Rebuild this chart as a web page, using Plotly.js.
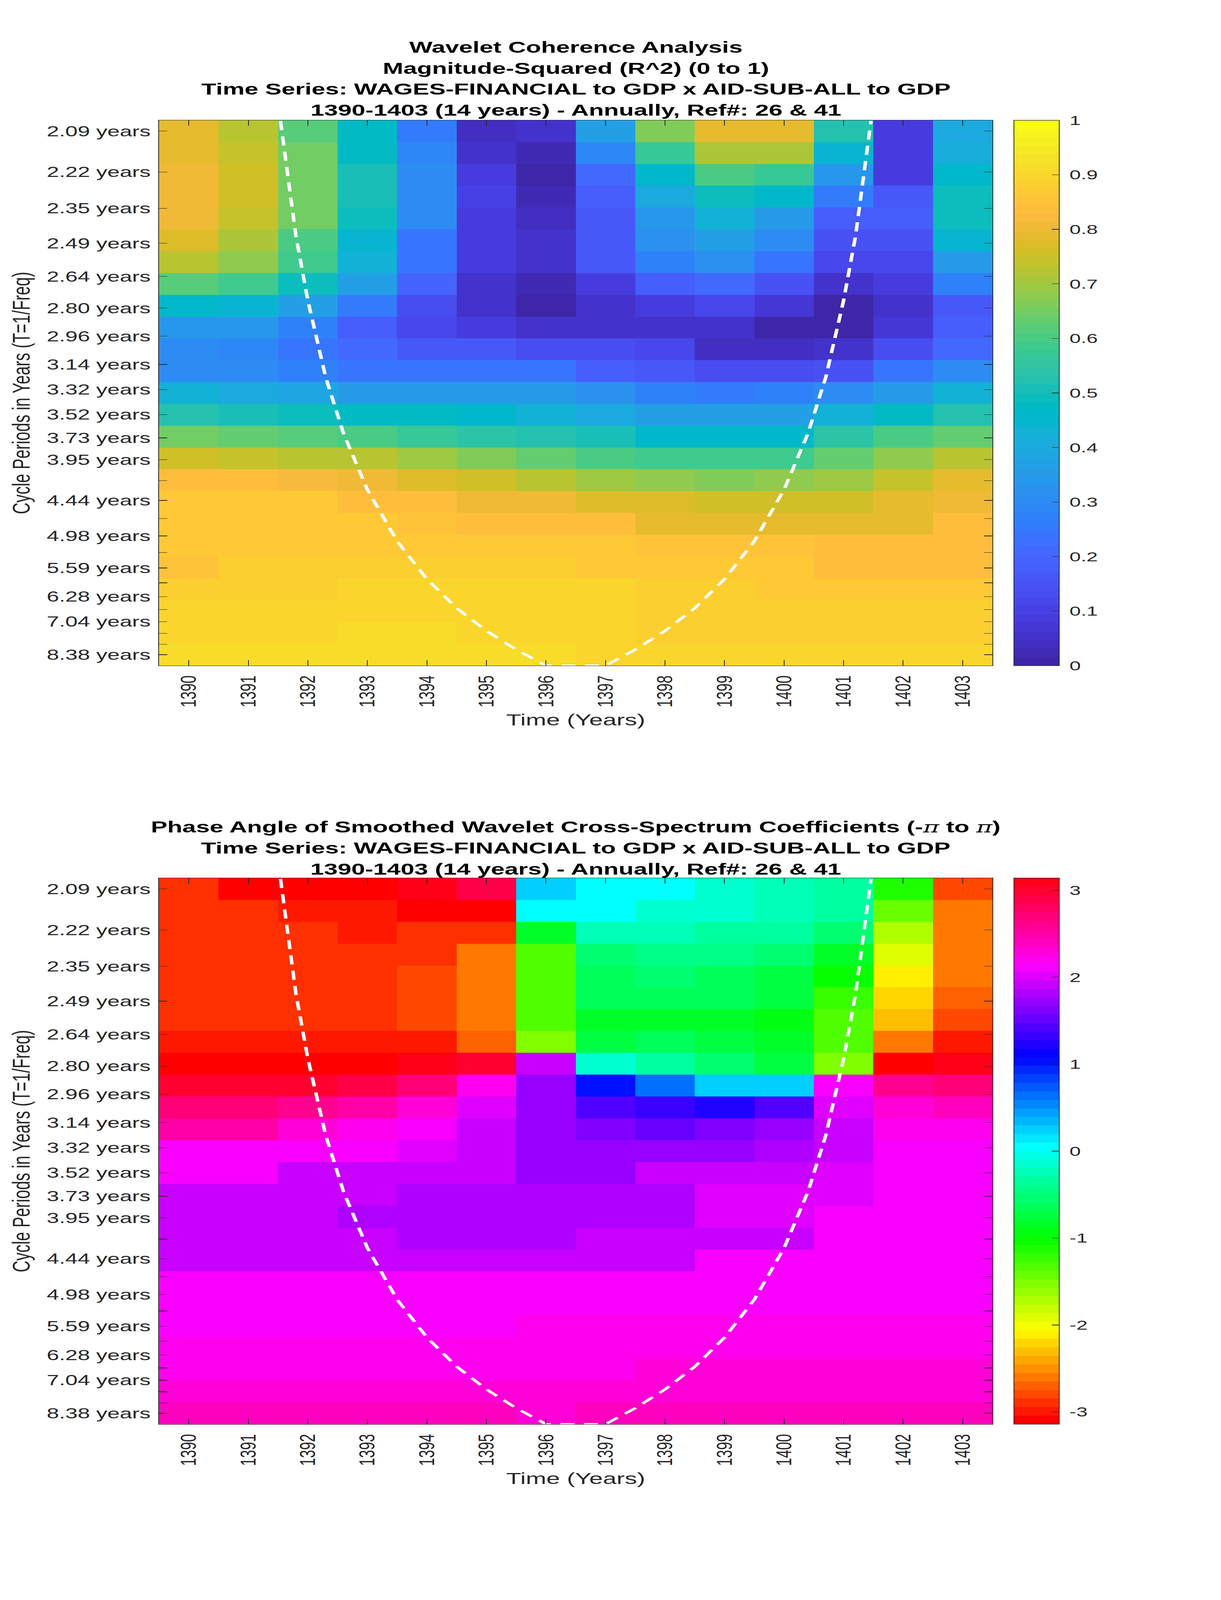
<!DOCTYPE html>
<html>
<head>
<meta charset="utf-8">
<script src="https://cdn.plot.ly/plotly-3.0.1.min.js"></script>
<style>
html,body{margin:0;padding:0;background:#fff;overflow:hidden;}
#frame{position:relative;overflow:hidden;background:#fff;}
#chart{position:absolute;left:0;top:0;width:3125px;height:6252px;transform-origin:0 0;}
</style>
</head>
<body>
<div id="frame"><div id="chart"></div></div>
<script>
// ---------------- data ----------------
const years = [1390,1391,1392,1393,1394,1395,1396,1397,1398,1399,1400,1401,1402,1403];

// wavelet periods (rows, top to bottom) and their tick labels
const periods = [2.09,2.22,2.35,2.49,2.64,2.80,2.96,3.14,3.32,3.52,3.73,3.95,4.19,4.44,4.70,4.98,5.28,5.59,5.93,6.28,6.65,7.04,7.46,7.91,8.38];
const periodLabels = ['2.09 years','2.22 years','2.35 years','2.49 years','2.64 years','2.80 years','2.96 years','3.14 years','3.32 years','3.52 years','3.73 years','3.95 years','','4.44 years','','4.98 years','','5.59 years','','6.28 years','','7.04 years','','','8.38 years'];

// magnitude-squared coherence, one array per period row (top to bottom)
const coherence = [
  [0.789,0.727,0.62,0.47,0.26,0.04,0.055,0.365,0.664,0.789,0.789,0.52,0.086,0.40],
  [0.789,0.742,0.648,0.47,0.29,0.055,0.02,0.29,0.57,0.71,0.71,0.445,0.086,0.41],
  [0.805,0.758,0.648,0.51,0.30,0.086,0.008,0.21,0.46,0.60,0.57,0.335,0.086,0.46],
  [0.805,0.758,0.648,0.51,0.30,0.10,0.02,0.18,0.40,0.49,0.46,0.26,0.16,0.49],
  [0.805,0.742,0.648,0.49,0.30,0.09,0.04,0.16,0.335,0.43,0.35,0.18,0.18,0.49],
  [0.773,0.71,0.60,0.445,0.24,0.086,0.05,0.16,0.32,0.365,0.31,0.15,0.15,0.445],
  [0.727,0.68,0.585,0.43,0.24,0.086,0.05,0.16,0.27,0.32,0.24,0.117,0.117,0.35],
  [0.62,0.585,0.49,0.365,0.195,0.055,0.025,0.086,0.18,0.21,0.15,0.055,0.086,0.27],
  [0.46,0.445,0.365,0.26,0.13,0.055,0.015,0.05,0.086,0.117,0.07,0.008,0.055,0.16],
  [0.335,0.335,0.27,0.18,0.117,0.086,0.05,0.05,0.05,0.05,0.008,0.008,0.07,0.18],
  [0.30,0.29,0.24,0.21,0.16,0.16,0.14,0.13,0.117,0.04,0.04,0.05,0.13,0.21],
  [0.31,0.31,0.27,0.24,0.24,0.24,0.24,0.18,0.16,0.13,0.13,0.15,0.24,0.31],
  [0.43,0.40,0.38,0.35,0.35,0.35,0.35,0.32,0.27,0.26,0.27,0.31,0.35,0.43],
  [0.52,0.51,0.49,0.48,0.48,0.46,0.43,0.40,0.365,0.365,0.365,0.43,0.48,0.52],
  [0.648,0.633,0.62,0.60,0.57,0.54,0.52,0.51,0.46,0.46,0.46,0.54,0.60,0.633],
  [0.758,0.742,0.727,0.727,0.695,0.664,0.633,0.60,0.585,0.585,0.585,0.633,0.68,0.727],
  [0.836,0.836,0.82,0.805,0.773,0.758,0.727,0.695,0.68,0.664,0.68,0.695,0.742,0.789],
  [0.86,0.86,0.86,0.83,0.83,0.81,0.81,0.775,0.775,0.75,0.75,0.76,0.79,0.80],
  [0.86,0.86,0.86,0.86,0.85,0.83,0.83,0.83,0.79,0.79,0.79,0.79,0.79,0.83],
  [0.87,0.87,0.87,0.87,0.87,0.87,0.87,0.87,0.85,0.85,0.85,0.83,0.83,0.83],
  [0.85,0.88,0.88,0.88,0.88,0.88,0.88,0.87,0.87,0.87,0.87,0.84,0.84,0.84],
  [0.885,0.885,0.885,0.895,0.895,0.895,0.895,0.895,0.88,0.88,0.87,0.87,0.87,0.87],
  [0.895,0.895,0.895,0.895,0.895,0.895,0.895,0.895,0.885,0.885,0.885,0.885,0.885,0.885],
  [0.895,0.895,0.895,0.91,0.91,0.90,0.90,0.90,0.89,0.89,0.89,0.89,0.89,0.89],
  [0.91,0.91,0.91,0.91,0.91,0.91,0.91,0.895,0.895,0.895,0.895,0.895,0.895,0.895]
];

// phase angle (radians), one array per period row (top to bottom)
const phase = [
  [-2.93,-3.06,-3.12,-3.12,3.10,2.90,0.23,0.02,0.02,-0.10,-0.23,-0.30,-1.16,-2.75],
  [-2.93,-2.93,-3.04,-3.04,-3.13,-3.13,0.00,0.00,-0.10,-0.18,-0.22,-0.39,-1.44,-2.65],
  [-2.93,-2.93,-2.93,-3.04,-2.93,-2.85,-0.82,-0.22,-0.22,-0.30,-0.35,-0.55,-1.70,-2.65],
  [-2.93,-2.93,-2.93,-2.93,-2.93,-2.65,-1.28,-0.52,-0.42,-0.42,-0.57,-0.88,-1.90,-2.65],
  [-2.93,-2.93,-2.93,-2.93,-2.81,-2.56,-1.37,-0.62,-0.52,-0.67,-0.75,-1.05,-2.14,-2.65],
  [-2.93,-2.93,-2.93,-2.93,-2.81,-2.56,-1.28,-0.67,-0.67,-0.67,-0.75,-1.25,-2.23,-2.73],
  [-2.93,-2.93,-2.93,-2.93,-2.81,-2.56,-1.37,-0.88,-0.80,-0.80,-0.93,-1.37,-2.33,-2.81],
  [-3.04,-3.04,-3.04,-3.04,-2.98,-2.73,-1.50,-0.70,-0.67,-0.78,-0.85,-1.37,-2.65,-3.04],
  [-3.13,-3.13,-3.13,-3.13,3.10,3.00,1.87,-0.10,-0.30,-0.55,-0.78,-1.50,-3.13,3.05],
  [2.98,2.98,2.98,2.90,2.73,2.25,1.75,1.05,0.60,0.20,0.20,2.09,2.65,2.70],
  [2.73,2.73,2.65,2.53,2.33,1.98,1.75,1.46,1.33,1.25,1.46,1.98,2.33,2.44],
  [2.48,2.48,2.32,2.24,2.10,1.87,1.745,1.62,1.52,1.62,1.745,1.95,2.16,2.16],
  [2.14,2.14,2.12,2.12,1.97,1.87,1.745,1.745,1.745,1.745,1.77,1.95,2.14,2.14],
  [2.10,2.10,1.94,1.94,1.87,1.87,1.72,1.72,1.87,1.87,1.94,1.98,2.10,2.10],
  [1.90,1.90,1.90,1.90,1.85,1.85,1.85,1.85,1.85,1.97,1.97,1.97,2.10,2.10],
  [1.90,1.90,1.90,1.85,1.85,1.85,1.85,1.85,1.85,1.97,1.97,2.10,2.10,2.10],
  [1.90,1.90,1.90,1.90,1.84,1.84,1.84,1.95,1.95,1.95,1.95,2.10,2.10,2.10],
  [1.95,1.95,1.95,1.95,1.95,1.95,1.95,1.95,1.95,2.10,2.10,2.10,2.10,2.10],
  [2.10,2.10,2.10,2.10,2.10,2.10,2.10,2.10,2.10,2.12,2.12,2.12,2.12,2.12],
  [2.10,2.10,2.10,2.10,2.10,2.10,2.10,2.10,2.14,2.14,2.14,2.14,2.14,2.14],
  [2.10,2.10,2.10,2.10,2.10,2.10,2.17,2.17,2.17,2.17,2.17,2.17,2.17,2.17],
  [2.17,2.17,2.17,2.17,2.17,2.17,2.17,2.17,2.17,2.17,2.22,2.22,2.19,2.19],
  [2.19,2.19,2.19,2.19,2.19,2.19,2.19,2.19,2.26,2.26,2.26,2.26,2.26,2.26],
  [2.26,2.26,2.26,2.26,2.26,2.26,2.26,2.26,2.26,2.26,2.26,2.26,2.26,2.26],
  [2.38,2.38,2.38,2.38,2.38,2.38,2.28,2.38,2.38,2.38,2.38,2.38,2.38,2.38]
];

// cone of influence (time, period in years)
const coiYears   = [1391.54,1391.8,1392.0,1392.3,1392.6,1393.0,1393.5,1394.0,1394.5,1395.0,1395.5,1396.0,1396.5,1397.0,1397.5,1398.0,1398.5,1399.0,1399.5,1400.0,1400.4,1400.7,1401.0,1401.2,1401.46];
const coiPeriods = [2.06,2.46,2.76,3.23,3.69,4.30,5.07,5.84,6.61,7.37,8.14,8.94,8.94,8.94,8.14,7.37,6.61,5.84,5.07,4.30,3.69,3.23,2.76,2.46,2.06];

const coherenceTicks = [0,0.1,0.2,0.3,0.4,0.5,0.6,0.7,0.8,0.9,1];
const phaseTicks = [-3,-2,-1,0,1,2,3];

// ---------------- colormaps ----------------
const parula64 = [
[0.2422,0.1504,0.6603],[0.2504,0.1650,0.7076],[0.2578,0.1818,0.7511],[0.2647,0.1978,0.7952],
[0.2706,0.2147,0.8364],[0.2751,0.2342,0.8710],[0.2783,0.2559,0.8991],[0.2803,0.2782,0.9221],
[0.2813,0.3006,0.9414],[0.2810,0.3228,0.9579],[0.2795,0.3447,0.9717],[0.2760,0.3667,0.9829],
[0.2699,0.3892,0.9906],[0.2602,0.4123,0.9952],[0.2440,0.4358,0.9988],[0.2206,0.4603,0.9973],
[0.1963,0.4847,0.9892],[0.1834,0.5074,0.9798],[0.1786,0.5289,0.9682],[0.1764,0.5499,0.9520],
[0.1687,0.5703,0.9359],[0.1540,0.5902,0.9218],[0.1460,0.6091,0.9079],[0.1380,0.6276,0.8973],
[0.1248,0.6459,0.8883],[0.1113,0.6635,0.8763],[0.0952,0.6798,0.8598],[0.0689,0.6948,0.8394],
[0.0297,0.7082,0.8163],[0.0036,0.7203,0.7917],[0.0067,0.7312,0.7660],[0.0433,0.7411,0.7394],
[0.0964,0.7500,0.7120],[0.1408,0.7584,0.6842],[0.1717,0.7670,0.6554],[0.1938,0.7758,0.6251],
[0.2161,0.7843,0.5923],[0.2470,0.7918,0.5567],[0.2906,0.7973,0.5188],[0.3406,0.8008,0.4789],
[0.3909,0.8029,0.4354],[0.4456,0.8024,0.3909],[0.5044,0.7993,0.3480],[0.5616,0.7942,0.3045],
[0.6174,0.7876,0.2612],[0.6720,0.7793,0.2227],[0.7242,0.7698,0.1910],[0.7738,0.7598,0.1646],
[0.8203,0.7498,0.1535],[0.8634,0.7406,0.1596],[0.9035,0.7330,0.1774],[0.9393,0.7288,0.2100],
[0.9728,0.7298,0.2394],[0.9956,0.7434,0.2371],[0.9970,0.7659,0.2199],[0.9952,0.7893,0.2028],
[0.9892,0.8136,0.1885],[0.9786,0.8386,0.1766],[0.9676,0.8639,0.1643],[0.9610,0.8890,0.1537],
[0.9597,0.9135,0.1423],[0.9628,0.9373,0.1265],[0.9691,0.9606,0.1064],[0.9769,0.9839,0.0805]];

function rgbStr(c){ return 'rgb(' + Math.round(c[0]*255) + ',' + Math.round(c[1]*255) + ',' + Math.round(c[2]*255) + ')'; }
function hsvColor(h){
  const k = h*6, i = Math.floor(k), f = k - i, q = 1 - f;
  switch(i % 6){
    case 0: return [1,f,0];
    case 1: return [q,1,0];
    case 2: return [0,1,f];
    case 3: return [0,q,1];
    case 4: return [f,0,1];
    default: return [1,0,q];
  }
}
function discreteScale(cols){
  const n = cols.length, out = [];
  for(let i=0;i<n;i++){ out.push([i/n, rgbStr(cols[i])]); out.push([(i+1)/n, rgbStr(cols[i])]); }
  return out;
}
const hsv64 = []; for(let i=0;i<64;i++) hsv64.push(hsvColor(i/64));
const parulaScale = discreteScale(parula64);
const hsvScale = discreteScale(hsv64);

// ---------------- geometry (axis is linear in frequency = 1/period) ----------------
const fTop = 1/periods[0], fBot = 1/periods[periods.length-1];
const nRows = periods.length;
const rowStep = (fTop - fBot)/(nRows-1);
const rowFreq = periods.map((p,i) => fTop - i*rowStep);   // imagesc-style uniform rows
const yRange = [fBot - rowStep/2, fTop + rowStep/2];
const tickFreq = periods.map(p => 1/p);
const coiFreq = coiPeriods.map(p => Math.min(Math.max(1/p, yRange[0]), yRange[1]));

// figure is drawn on a 3125 x 6252 canvas, then fitted to the actual window
const W = 3125, H = 6252;
const VW = Math.min(window.innerWidth || W, W), VH = Math.min(window.innerHeight || H, H);
const frame = document.getElementById('frame');
frame.style.width = VW + 'px'; frame.style.height = VH + 'px';
document.getElementById('chart').style.transform = 'scale(' + (VW/W) + ',' + (VH/H) + ')';

const FONT = 'Liberation Sans, Arial, Helvetica, sans-serif';
const AX = '#262626';
const L = 407, R = W - 2540, T = 470, B = H - 5565;
const plotH = H - T - B;
const topDom = [(plotH - (2601 - 470))/plotH, 1];
const botDom = [0, (5565 - 3431)/plotH];

function xAxis(anchor){
  return {
    anchor: anchor, domain: [0,1], range: [1389.5, 1403.5],
    tickmode: 'array', tickvals: years, ticktext: years.map(String),
    tickangle: -90, ticks: 'inside', ticklen: 21, tickwidth: 2, tickcolor: AX,
    showline: true, linecolor: AX, linewidth: 2, mirror: 'ticks',
    showgrid: false, zeroline: false, ticklabelstandoff: 14,
    tickfont: {family: FONT, size: 56, color: AX},
    title: {text: 'Time (Years)', font: {family: FONT, size: 63, color: AX}, standoff: 28}
  };
}
function yAxis(anchor, dom){
  return {
    anchor: anchor, domain: dom, range: yRange,
    tickmode: 'array', tickvals: tickFreq, ticktext: periodLabels,
    ticks: 'inside', ticklen: 21, tickwidth: 2, tickcolor: AX,
    showline: true, linecolor: AX, linewidth: 2, mirror: 'ticks',
    showgrid: false, zeroline: false, ticklabelstandoff: 8,
    tickfont: {family: FONT, size: 57, color: AX},
    title: {text: 'Cycle Periods in Years (T=1/Freq)', font: {family: FONT, size: 63, color: AX}, standoff: 22}
  };
}
function colorbar(yc, len, tv){
  return {
    x: (2595 - L)/(W - L - R), xanchor: 'left', xpad: 0, ypad: 0,
    y: yc, yanchor: 'middle', len: len, lenmode: 'fraction',
    thickness: 116, thicknessmode: 'pixels',
    outlinewidth: 2, outlinecolor: AX,
    tickmode: 'array', tickvals: tv, ticktext: tv.map(v => '\u00a0' + String(v)),
    ticks: 'inside', ticklen: 20, tickwidth: 2, tickcolor: AX,
    tickfont: {family: FONT, size: 52, color: AX}
  };
}

const topCenter = ((5565 - 470) + (5565 - 2601))/2/plotH;
const botCenter = ((5565 - 3431) + 0)/2/plotH;
const coiLine = {color: '#ffffff', width: 9, dash: '36px,24px'};

const traces = [
  {type: 'heatmap', x: years, y: rowFreq, z: coherence, xaxis: 'x', yaxis: 'y',
   zmin: 0, zmax: 1, colorscale: parulaScale, zsmooth: false,
   colorbar: colorbar(topCenter, (2601-470)/plotH, coherenceTicks)},
  {type: 'scatter', mode: 'lines', x: coiYears, y: coiFreq, xaxis: 'x', yaxis: 'y',
   line: coiLine, hoverinfo: 'skip', showlegend: false},
  {type: 'heatmap', x: years, y: rowFreq, z: phase, xaxis: 'x2', yaxis: 'y2',
   zmin: -Math.PI, zmax: Math.PI, colorscale: hsvScale, zsmooth: false,
   colorbar: colorbar(botCenter, (5565-3431)/plotH, phaseTicks)},
  {type: 'scatter', mode: 'lines', x: coiYears, y: coiFreq, xaxis: 'x2', yaxis: 'y2',
   line: coiLine, hoverinfo: 'skip', showlegend: false}
];

const piSpan = '<span style="font-family:\'DejaVu Serif\',serif;font-weight:normal;font-style:italic">π</span>';
const topTitle = 'Wavelet Coherence Analysis<br>Magnitude-Squared (R^2) (0 to 1)<br>Time Series: WAGES-FINANCIAL to GDP x AID-SUB-ALL to GDP<br>1390-1403 (14 years) - Annually, Ref#: 26 &amp; 41';
const botTitle = 'Phase Angle of Smoothed Wavelet Cross-Spectrum Coefficients (-' + piSpan + ' to ' + piSpan + ')<br>Time Series: WAGES-FINANCIAL to GDP x AID-SUB-ALL to GDP<br>1390-1403 (14 years) - Annually, Ref#: 26 &amp; 41';

const layout = {
  width: W, height: H,
  margin: {l: L, r: R, t: T, b: B, pad: 0},
  paper_bgcolor: '#ffffff', plot_bgcolor: '#ffffff',
  showlegend: false,
  font: {family: FONT, color: AX},
  xaxis: xAxis('y'), yaxis: yAxis('x', topDom),
  xaxis2: xAxis('y2'), yaxis2: yAxis('x2', botDom),
  annotations: [
    {xref: 'paper', yref: 'paper', x: 0.5, y: (5565 - 307)/plotH, xanchor: 'center', yanchor: 'middle',
     text: '<b>' + topTitle + '</b>', showarrow: false, align: 'center',
     font: {family: FONT, size: 63, color: '#000000'}},
    {xref: 'paper', yref: 'paper', x: 0.5, y: (5565 - 3312)/plotH, xanchor: 'center', yanchor: 'middle',
     text: '<b>' + botTitle + '</b>', showarrow: false, align: 'center',
     font: {family: FONT, size: 63, color: '#000000'}}
  ]
};

Plotly.newPlot('chart', traces, layout, {staticPlot: true, displayModeBar: false});
</script>
</body>
</html>
